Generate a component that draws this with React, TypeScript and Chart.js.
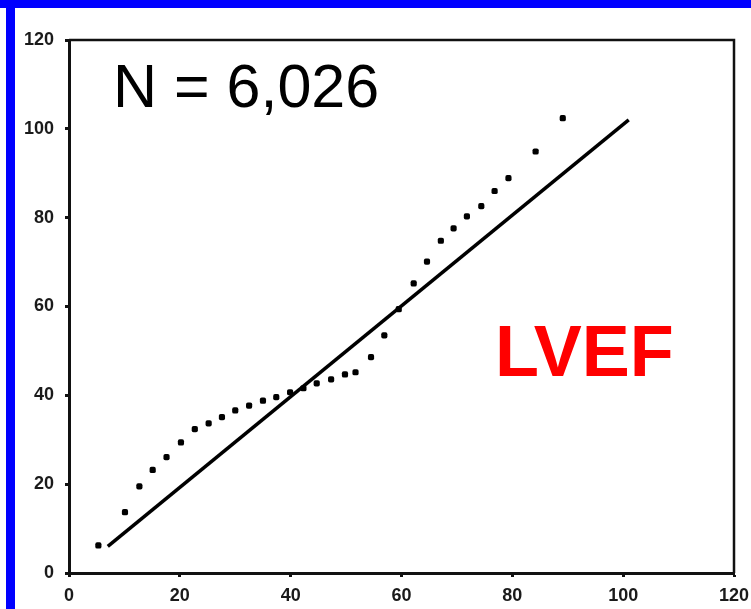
import React, { useEffect, useRef } from "react";
import { Chart, registerables } from "chart.js";

Chart.register(...registerables);

const dotsX = [5.3, 10.1, 12.7, 15.1, 17.6, 20.2, 22.7, 25.2, 27.6, 30.0, 32.5, 35.0, 37.4, 39.9, 42.3, 44.7, 47.3, 49.8, 51.7, 54.5, 56.9, 59.5, 62.2, 64.6, 67.1, 69.4, 71.8, 74.4, 76.8, 79.3, 84.2, 89.1];
const dotsY = [6.2, 13.7, 19.5, 23.2, 26.1, 29.4, 32.4, 33.7, 35.1, 36.6, 37.7, 38.8, 39.6, 40.7, 41.6, 42.7, 43.6, 44.7, 45.2, 48.6, 53.5, 59.4, 65.2, 70.1, 74.8, 77.6, 80.3, 82.6, 86.0, 88.9, 94.9, 102.4];
const lineX = [7, 101];
const lineY = [6, 102];
const axisMin = 0;
const axisMax = 120;
const axisStep = 20;
const nLabel = "N = 6,026";
const measureLabel = "LVEF";

const decorPlugin = {
  id: "decor",
  beforeDraw(chart: any) {
    const ctx = chart.ctx;
    ctx.save();
    ctx.fillStyle = "#ffffff";
    ctx.fillRect(0, 0, chart.width, chart.height);
    ctx.fillStyle = "#0000ff";
    ctx.fillRect(0, 0, chart.width, 8);
    ctx.fillRect(6, 0, 9, chart.height);
    ctx.restore();
  },
  afterDraw(chart: any) {
    const ctx = chart.ctx;
    const a = chart.chartArea;
    ctx.save();
    ctx.strokeStyle = "#111111";
    ctx.lineWidth = 2.5;
    ctx.beginPath();
    ctx.moveTo(a.left, a.top);
    ctx.lineTo(a.right, a.top);
    ctx.lineTo(a.right, a.bottom);
    ctx.stroke();
    ctx.textBaseline = "alphabetic";
    ctx.textAlign = "left";
    ctx.fillStyle = "#000000";
    ctx.font = "61px 'Liberation Sans', Arial, sans-serif";
    ctx.fillText(nLabel, 113, 107);
    ctx.fillStyle = "#ff0000";
    ctx.font = "bold 72px 'Liberation Sans', Arial, sans-serif";
    ctx.fillText(measureLabel, 495, 376);
    ctx.restore();
  },
};

const zeroPad = (s: any) => {
  s.paddingLeft = 0;
  s.paddingRight = 0;
  s.paddingTop = 0;
  s.paddingBottom = 0;
};

export default function App() {
  const ref = useRef<HTMLCanvasElement | null>(null);
  useEffect(() => {
    if (!ref.current) return;
    const tickFont = { family: "'Liberation Sans', Arial, sans-serif", size: 18, weight: "bold" as const };
    const chart = new Chart(ref.current, {
      type: "scatter",
      data: {
        datasets: [
          {
            type: "line",
            data: lineX.map((x, i) => ({ x, y: lineY[i] })),
            borderColor: "#000000",
            borderWidth: 3.5,
            pointRadius: 0,
            fill: false,
          },
          {
            type: "scatter",
            data: dotsX.map((x, i) => ({ x, y: dotsY[i] })),
            backgroundColor: "#000000",
            borderColor: "#000000",
            pointStyle: "rectRounded",
            pointRadius: 3.6,
            borderWidth: 0,
          },
        ],
      } as any,
      options: {
        responsive: false,
        animation: false,
        devicePixelRatio: 1,
        layout: { padding: { top: 40, right: 17, left: 0, bottom: 0 } },
        plugins: { legend: { display: false }, tooltip: { enabled: false } },
        scales: {
          x: {
            type: "linear",
            min: axisMin,
            max: axisMax,
            ticks: { stepSize: axisStep, color: "#1a1a1a", font: tickFont, padding: 8, maxRotation: 0 },
            grid: { drawOnChartArea: false, drawTicks: true, tickLength: 4, tickWidth: 3, tickColor: "#111111" },
            border: { display: true, color: "#111111", width: 3 },
            afterFit: (s: any) => { s.height = 36; zeroPad(s); },
          },
          y: {
            type: "linear",
            min: axisMin,
            max: axisMax,
            ticks: { stepSize: axisStep, color: "#1a1a1a", font: tickFont, padding: 11 },
            grid: { drawOnChartArea: false, drawTicks: true, tickLength: 4, tickWidth: 3, tickColor: "#111111" },
            border: { display: true, color: "#111111", width: 3 },
            afterFit: (s: any) => { s.width = 69; zeroPad(s); },
          },
        },
      },
      plugins: [decorPlugin],
    });
    return () => chart.destroy();
  }, []);
  return (
    <div style={{ position: "fixed", left: 0, top: 0, width: 751, height: 609, background: "#fff" }}>
      <canvas ref={ref} width={751} height={609} style={{ display: "block", width: 751, height: 609 }} />
    </div>
  );
}
